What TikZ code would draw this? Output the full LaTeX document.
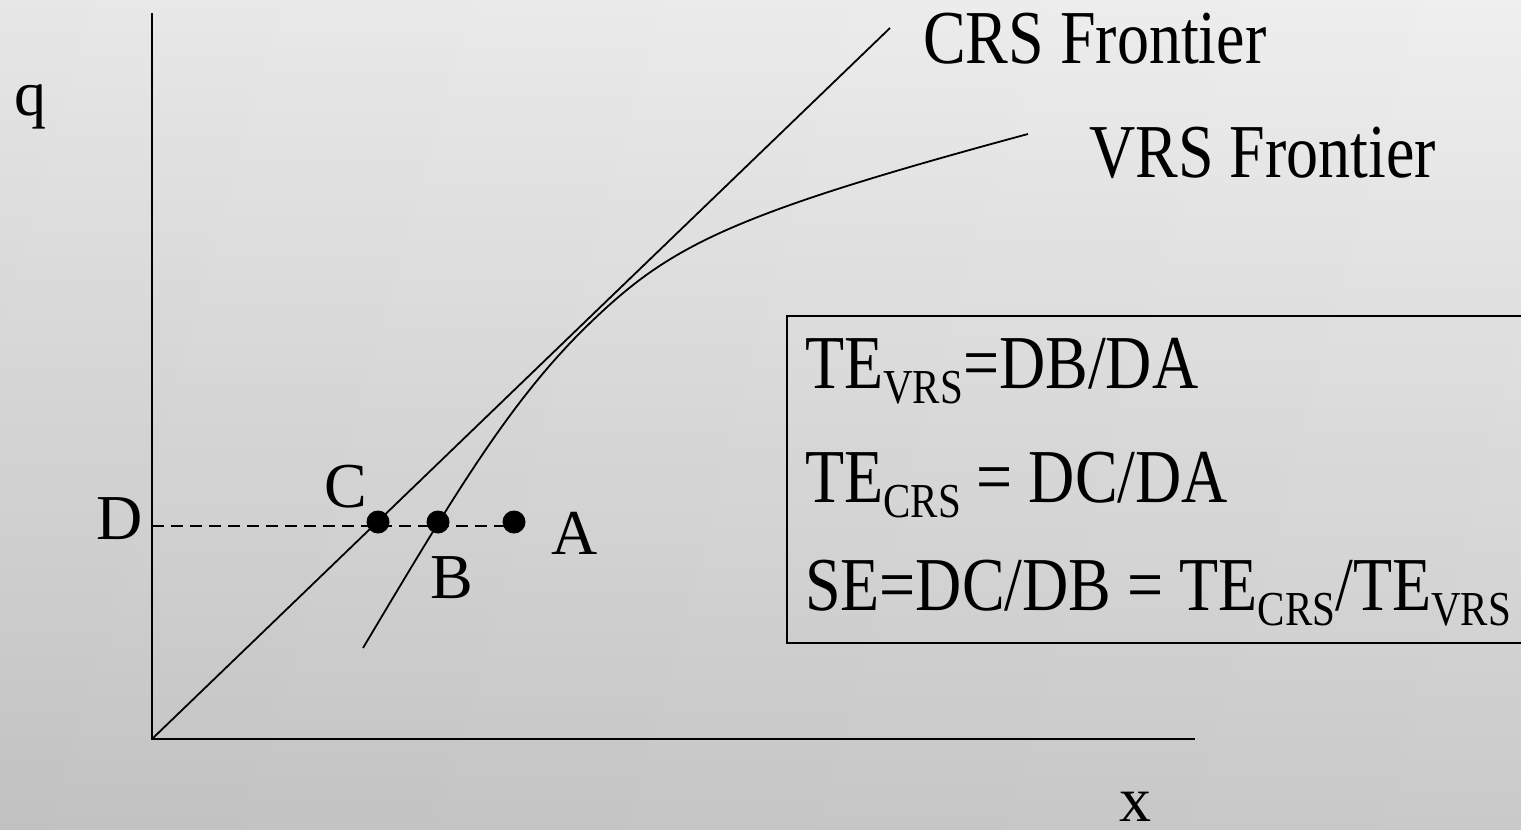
\documentclass[tikz,border=0pt]{standalone}
\usepackage{fontspec}
\setmainfont{Liberation Serif}
\usepackage{graphicx}
\definecolor{bgtop}{HTML}{F7F7F7}
\definecolor{bgmid}{HTML}{EBEBEB}
\definecolor{bgbot}{HTML}{CFCFCF}
\newcommand\mysub[1]{\raisebox{-13pt}{\fontsize{41}{41}\selectfont #1}}
\newcommand\tallbox[1]{\scalebox{1}[1.19]{#1}}
\begin{document}
\begin{tikzpicture}[x=1pt,y=-1pt,
  axis/.style={line width=1.8pt},
  curve/.style={line width=1.8pt},
  dot/.style={circle, fill=black, inner sep=0pt, minimum size=23pt},
  lab/.style={inner sep=0pt, font=\fontsize{64}{64}\selectfont},
  dashline/.style={line width=1.6pt, dash pattern=on 12pt off 7pt},
  boxline/.style={line width=1.8pt}]
\useasboundingbox (0,0) rectangle (1521,830);
\clip (0,0) rectangle (1521,830);
\fill[top color=bgtop, middle color=bgmid, bottom color=bgbot] (0,0) rectangle (1521,830);
\fill[left color=black, right color=white, fill opacity=0.03] (0,0) rectangle (1521,830);

% axes
\coordinate (O) at (152,739);
\coordinate (ytop) at (152,13);
\coordinate (xend) at (1195,739);
\draw[axis] (ytop) -- (O) -- (xend);

% CRS frontier
\coordinate (crsend) at (890,28);
\draw[curve] (O) -- (crsend);

% VRS frontier
\coordinate (vrs0) at (363,648);
\coordinate (vrsT) at (590,323);
\coordinate (vrs1) at (1028,134);
\draw[curve] (vrs0) .. controls (453,497) and (510,400) .. (vrsT)
                    .. controls (670,246) and (728,215) .. (vrs1);

% points
\node[dot] (C) at (378,522) {};
\node[dot] (B) at (438,522) {};
\node[dot] (A) at (514,522) {};
\coordinate (Dpt) at (152,526);
\draw[dashline] (Dpt) -- (Dpt -| A);

% labels
\node[lab, anchor=base] (qlab) at (30,115) {q};
\node[lab, anchor=base] (xlab) at (1135,821) {x};
\node[lab, anchor=base] (Dlab) at (120,539) {D};
\node[lab, anchor=base] (Clab) at (346,507) {C};
\node[lab, anchor=base] (Alab) at (575,554) {A};
\node[lab, anchor=base] (Blab) at (452,598) {B};
\node[lab, anchor=base west] (crslab) at (923,63) {\tallbox{CRS Frontier}};
\node[lab, anchor=base west] (vrslab) at (1089,177) {\tallbox{VRS Frontier}};

% formula box
\draw[boxline] (787,316) rectangle (1530,643);
\node[lab, anchor=base west] (t1) at (805,388) {\tallbox{TE\mysub{VRS}=DB/DA}};
\node[lab, anchor=base west] (t2) at (805,502) {\tallbox{TE\mysub{CRS} = DC/DA}};
\node[lab, anchor=base west] (t3) at (805,610) {\tallbox{SE=DC/DB = TE\mysub{CRS}/TE\mysub{VRS}}};
\end{tikzpicture}
\end{document}
